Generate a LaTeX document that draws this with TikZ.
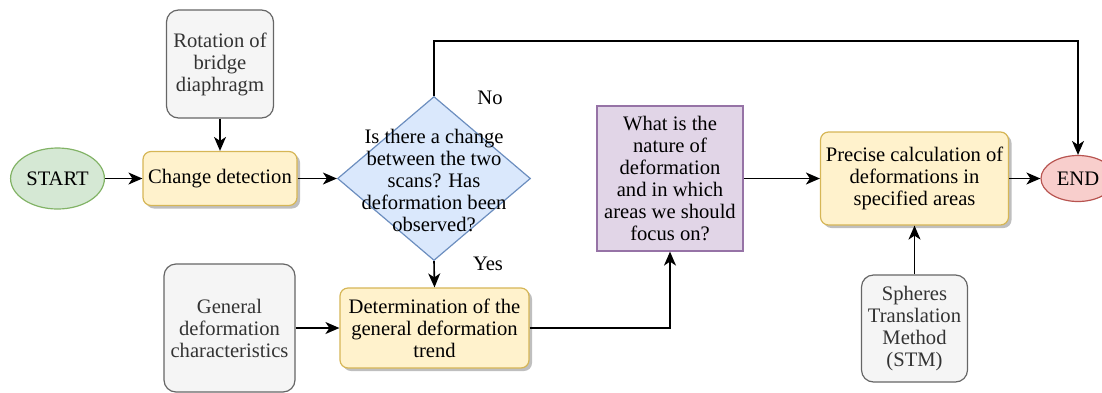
\documentclass[tikz,border=0pt]{standalone}
\usepackage{fontspec}
\setmainfont{Liberation Serif}
\usetikzlibrary{shapes.geometric, arrows.meta, shadows}

\definecolor{yellowfill}{HTML}{FFF2CC}
\definecolor{yellowline}{HTML}{D6B656}
\definecolor{grayfill}{HTML}{F5F5F5}
\definecolor{grayline}{HTML}{666666}
\definecolor{graytext}{HTML}{333333}
\definecolor{greenfill}{HTML}{D5E8D4}
\definecolor{greenline}{HTML}{82B366}
\definecolor{redfill}{HTML}{F8CECC}
\definecolor{redline}{HTML}{B85450}
\definecolor{bluefill}{HTML}{DAE8FC}
\definecolor{blueline}{HTML}{6C8EBF}
\definecolor{purplefill}{HTML}{E1D5E7}
\definecolor{purpleline}{HTML}{9673A6}

\tikzset{
    base/.style={draw, line width=0.6pt, align=center, inner sep=1pt,
        font=\fontsize{10.3}{11}\selectfont},
    yellowbox/.style={base, rounded corners=4pt, fill=yellowfill, draw=yellowline,
        drop shadow={shadow xshift=1.5pt, shadow yshift=-1.5pt, opacity=0.25, fill=black}},
    graybox/.style={base, rounded corners=6pt, fill=grayfill, draw=grayline, text=graytext},
    terminal/.style={base, ellipse},
    arr/.style={-{Stealth[length=7pt, width=6pt, inset=2pt]}, line width=0.8pt},
}

\begin{document}
\begin{tikzpicture}[x=0.5pt, y=-0.5pt]
    \useasboundingbox (0,0) rectangle (1102,392);
    \clip (0,0) rectangle (1102,392);

    % Start and end
    \node[terminal, fill=greenfill, draw=greenline, minimum width=44.5pt, minimum height=30.5pt] (start) at (57.5,178.5) {START};
    \node[terminal, fill=redfill, draw=redline, minimum width=37pt, minimum height=23pt] (end) at (1078,178.5) {END};

    % Inputs
    \node[graybox, minimum width=53.5pt, minimum height=54pt] (rot) at (220,64) {Rotation of\\bridge\\diaphragm};
    \node[graybox, minimum width=65.5pt, minimum height=64pt] (gen) at (229.5,328) {General\\deformation\\characteristics};
    \node[graybox, minimum width=53pt, minimum height=53.5pt] (stm) at (914.5,328.5) {Spheres\\Translation\\Method\\(STM)};

    % Process steps
    \node[yellowbox, minimum width=77pt, minimum height=27pt] (change) at (220,178.5) {Change detection};
    \node[yellowbox, minimum width=94.5pt, minimum height=40pt] (det) at (434.5,328) {Determination of the\\general deformation\\trend};
    \node[yellowbox, minimum width=94pt, minimum height=46.5pt] (prec) at (914.5,178.5) {Precise calculation of\\deformations in\\specified areas};
    \node[base, fill=purplefill, draw=purpleline, minimum width=73pt, minimum height=72.5pt] (nat) at (670,178.5) {What is the\\nature of\\deformation\\and in which\\areas we should\\focus on?};

    % Decision
    \node[base, diamond, fill=bluefill, draw=blueline, minimum width=96.5pt, minimum height=82pt, inner sep=0pt] (q) at (434,178.5) {};
    \node[align=center, font=\fontsize{10.3}{11}\selectfont, inner sep=0pt] (qtext) at (434,180) {Is there a change\\between the two\\scans? Has\\deformation been\\observed?};
    \node[font=\fontsize{10.3}{11}\selectfont] (no) at (490,98) {No};
    \node[font=\fontsize{10.3}{11}\selectfont] (yes) at (488,264) {Yes};

    % Arrows
    \coordinate (top) at (434,41);
    \draw[arr] (start) -- (change);
    \draw[arr] (rot) -- (change);
    \draw[arr] (change) -- (q.west);
    \draw[arr] (q.south) -- (det.north);
    \draw[arr] (q.north) -- (top) -| (end.north);
    \draw[arr] (gen) -- (det);
    \draw[arr] (det.east) -| (nat.south);
    \draw[arr] (nat) -- (prec);
    \draw[arr] (stm) -- (prec);
    \draw[arr] (prec) -- (end);
\end{tikzpicture}
\end{document}
